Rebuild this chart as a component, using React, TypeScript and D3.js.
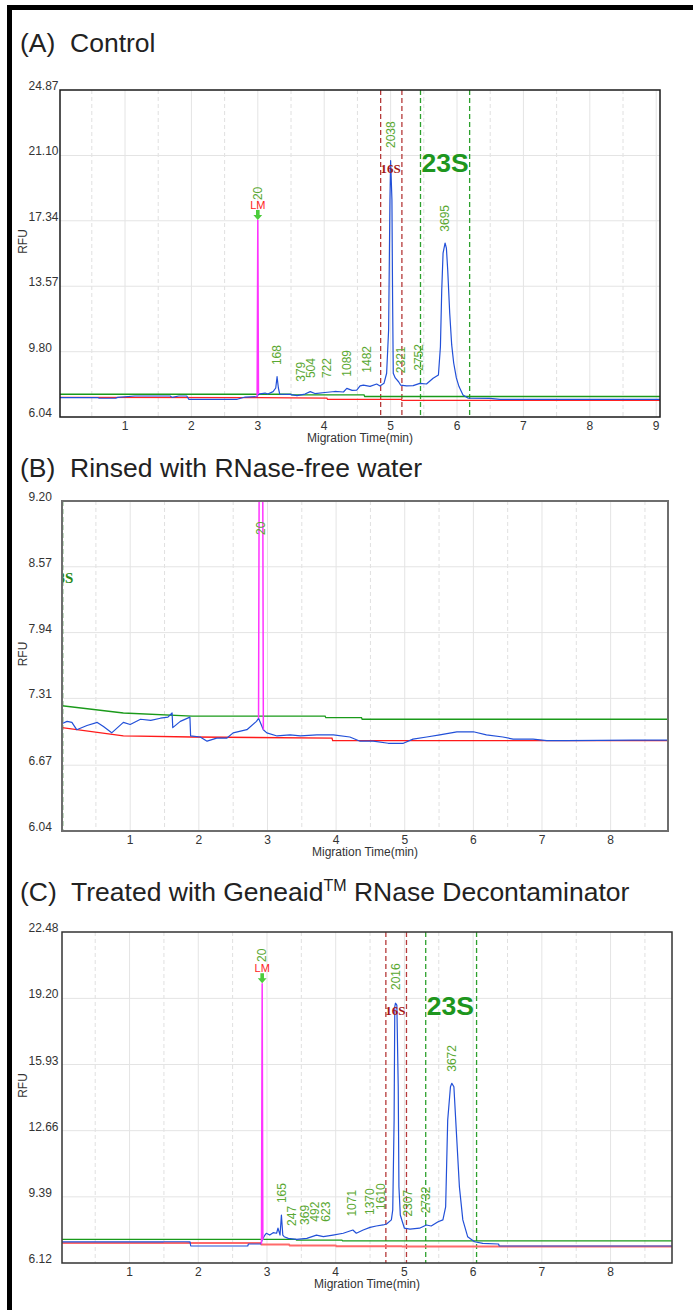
import React, { useEffect, useRef } from 'react'
import * as d3 from 'd3'

type Pt = [number, number]

// ---------- (A) Control ----------
const blueA: Pt[] = [
  [0.02, 7.16], [0.59, 7.16], [0.61, 7.12], [0.86, 7.12], [0.89, 7.17], [1.15, 7.25], [1.68, 7.25],
  [1.71, 7.17], [1.81, 7.25], [1.93, 7.25], [1.96, 7.06], [2.69, 7.06], [2.81, 7.19], [2.99, 7.21],
  [3.01, 7.36], [3.11, 7.42], [3.15, 7.36], [3.23, 7.5], [3.27, 7.71], [3.29, 8.36], [3.31, 7.71],
  [3.33, 7.36], [3.48, 7.34], [3.59, 7.27], [3.71, 7.36], [3.79, 7.5], [3.86, 7.39], [4.01, 7.45],
  [4.16, 7.51], [4.29, 7.48], [4.34, 7.69], [4.42, 7.57], [4.49, 7.59], [4.54, 7.83], [4.59, 7.88],
  [4.69, 7.8], [4.79, 7.94], [4.84, 7.83], [4.9, 7.98], [4.94, 8.56], [4.97, 11.05], [4.99, 18.53],
  [5.0, 20.8], [5.02, 18.53], [5.03, 12.78], [5.04, 8.56], [5.07, 8.29], [5.12, 8.07], [5.15, 7.88],
  [5.24, 7.83], [5.34, 7.85], [5.44, 7.98], [5.54, 7.94], [5.64, 8.27], [5.72, 8.46], [5.75, 10.09],
  [5.77, 13.35], [5.79, 15.48], [5.82, 16.06], [5.84, 15.77], [5.86, 14.5], [5.89, 12.03], [5.92, 10.19],
  [5.95, 9.15], [5.99, 8.29], [6.03, 7.79], [6.09, 7.31], [6.17, 7.12], [6.5, 7.11], [6.65, 7.06], [9.06, 7.06],
]
const greenA: Pt[] = [[0.02, 7.35], [3.5, 7.35], [3.51, 7.31], [4.6, 7.31], [4.61, 7.22], [9.06, 7.22]]
const redA: Pt[] = [[0.02, 7.17], [3.0, 7.15], [4.04, 7.13], [4.05, 7.05], [5.16, 7.05], [5.17, 7.0], [9.06, 7.0]]
const lmA: Pt[] = [[2.99, 7.21], [3.0, 17.38], [3.01, 7.36]]
const sizesA = ['20', '168', '379', '504', '722', '1089', '1482', '2038', '2321', '2752', '3695']
const sizeTimesA = [3.0, 3.29, 3.64, 3.79, 4.04, 4.34, 4.64, 5.0, 5.15, 5.42, 5.82]
const sizeRfuA = [17.84, 8.34, 7.38, 7.59, 7.59, 7.67, 7.9, 20.84, 7.87, 8.01, 16.02]
const yTicksA = [6.04, 9.8, 13.57, 17.34, 21.1, 24.87]
const marks16A = [4.85, 5.17]
const marks23A = [5.45, 6.19]

// ---------- (B) Rinsed ----------
const blueB: Pt[] = [
  [0.01, 7.07], [0.08, 7.09], [0.15, 7.08], [0.22, 7.01], [0.37, 7.05], [0.52, 7.08], [0.61, 7.04],
  [0.73, 6.98], [0.9, 7.08], [1.0, 7.06], [1.15, 7.11], [1.3, 7.1], [1.44, 7.12], [1.55, 7.13],
  [1.61, 7.17], [1.62, 7.03], [1.73, 7.09], [1.87, 7.13], [1.88, 6.95], [2.02, 6.94], [2.12, 6.9],
  [2.26, 6.93], [2.41, 6.93], [2.5, 6.98], [2.7, 7.01], [2.84, 7.09], [2.87, 7.12], [2.94, 7.01],
  [2.99, 6.98], [3.14, 6.95], [3.33, 6.96], [3.48, 6.95], [3.72, 6.96], [3.96, 6.96], [4.2, 6.94],
  [4.35, 6.9], [4.54, 6.9], [4.76, 6.88], [4.98, 6.88], [5.12, 6.92], [5.32, 6.94], [5.51, 6.96],
  [5.76, 6.99], [6.0, 6.99], [6.19, 6.96], [6.43, 6.94], [6.58, 6.92], [6.87, 6.92], [7.07, 6.905],
  [7.36, 6.905], [8.33, 6.91], [8.84, 6.91],
]
const greenB: Pt[] = [[0.0, 7.24], [0.9, 7.17], [1.9, 7.14], [3.84, 7.14], [3.85, 7.125], [4.37, 7.125], [4.38, 7.11], [8.84, 7.11]]
const redB: Pt[] = [[0.0, 7.03], [0.9, 6.95], [1.9, 6.94], [3.94, 6.93], [3.95, 6.905], [8.84, 6.905]]
const lmB: Pt[] = [[2.87, 7.12], [2.88, 9.7], [2.93, 9.7], [2.94, 7.01]]
const sizesB = ['20']
const sizeTimesB = [2.905]
const sizeRfuB = [8.76]
const yTicksB = [6.04, 6.67, 7.31, 7.94, 8.57, 9.2]
const marks16B: number[] = []
const marks23B = [0.01]

// ---------- (C) Treated ----------
const blueC: Pt[] = [
  [0.02, 7.16], [1.49, 7.16], [1.5, 7.17], [1.81, 7.17], [1.88, 7.16], [1.89, 6.96], [2.72, 6.96],
  [2.73, 7.06], [2.91, 7.06], [2.93, 7.26], [2.97, 7.5], [2.99, 7.59], [3.04, 7.5], [3.09, 7.62],
  [3.14, 7.59], [3.16, 7.84], [3.19, 7.5], [3.21, 8.49], [3.23, 7.5], [3.25, 7.42], [3.31, 7.34],
  [3.43, 7.29], [3.58, 7.34], [3.72, 7.5], [3.82, 7.42], [3.96, 7.5], [4.11, 7.59], [4.25, 7.75],
  [4.3, 7.59], [4.4, 7.75], [4.5, 7.88], [4.59, 7.95], [4.69, 8.0], [4.74, 8.05], [4.81, 8.25],
  [4.83, 8.74], [4.85, 13.19], [4.86, 18.79], [4.87, 18.96], [4.89, 18.87], [4.91, 14.83], [4.92, 9.89],
  [4.94, 8.49], [4.97, 8.16], [5.0, 7.84], [5.08, 7.79], [5.22, 7.84], [5.32, 8.0], [5.39, 7.95],
  [5.49, 8.16], [5.56, 8.25], [5.6, 8.9], [5.63, 13.19], [5.67, 14.83], [5.69, 15.0], [5.72, 14.83],
  [5.76, 12.36], [5.8, 9.89], [5.85, 8.25], [5.92, 7.42], [6.02, 7.17], [6.14, 7.09], [6.37, 7.06],
  [6.38, 6.96], [8.89, 6.96],
]
const greenC: Pt[] = [[0.02, 7.29], [3.42, 7.29], [3.43, 7.25], [4.09, 7.25], [4.1, 7.21], [8.89, 7.21]]
const redC: Pt[] = [[0.02, 7.11], [2.91, 7.11], [2.92, 7.04], [3.32, 7.04], [3.33, 6.99], [4.0, 6.99], [4.01, 6.95], [4.96, 6.95], [4.97, 6.93], [8.89, 6.93]]
const lmC: Pt[] = [[2.92, 7.06], [2.93, 19.95], [2.94, 7.26]]
const sizesC = ['20', '165', '247', '369', '492', '623', '1071', '1370', '1610', '2016', '2307', '2732', '3672']
const sizeTimesC = [2.93, 3.21, 3.36, 3.55, 3.7, 3.85, 4.23, 4.5, 4.65, 4.88, 5.05, 5.31, 5.69]
const sizeRfuC = [20.41, 8.49, 7.36, 7.41, 7.57, 7.57, 7.82, 7.9, 8.15, 19.02, 7.82, 7.98, 14.98]
const yTicksC = [6.12, 9.39, 12.66, 15.93, 19.2, 22.48]
const marks16C = [4.73, 5.03]
const marks23C = [5.31, 6.05]

const FONT = "'Liberation Sans', Arial, Helvetica, sans-serif"

const panels = [
  {
    title: '(A)  Control', sup: '', rest: '', titleY: 52,
    box: { l: 60, t: 90, r: 660, b: 417 }, xDomain: [0.021, 9.057], frame: '#1a1a1a', frameW: 1.5,
    blue: blueA, green: greenA, red: redA, lm: lmA, lmMarker: true, redColor: '#ff2222', redW: 1.3,
    sizes: sizesA, sizeTimes: sizeTimesA, sizeRfu: sizeRfuA, yTicks: yTicksA, m16: marks16A, m23: marks23A,
  },
  {
    title: '(B)  Rinsed with RNase-free water', sup: '', rest: '', titleY: 477,
    box: { l: 62, t: 501, r: 668, b: 831 }, xDomain: [0.006, 8.836], frame: '#6e6e6e', frameW: 2,
    blue: blueB, green: greenB, red: redB, lm: lmB, lmMarker: false, redColor: '#ff1a1a', redW: 1.3,
    sizes: sizesB, sizeTimes: sizeTimesB, sizeRfu: sizeRfuB, yTicks: yTicksB, m16: marks16B, m23: marks23B,
  },
  {
    title: '(C)  Treated with Geneaid', sup: 'TM', rest: ' RNase Decontaminator', titleY: 901,
    box: { l: 62, t: 932, r: 672, b: 1263 }, xDomain: [0.017, 8.894], frame: '#333', frameW: 1.5,
    blue: blueC, green: greenC, red: redC, lm: lmC, lmMarker: true, redColor: '#ff6a6a', redW: 2,
    sizes: sizesC, sizeTimes: sizeTimesC, sizeRfu: sizeRfuC, yTicks: yTicksC, m16: marks16C, m23: marks23C,
  },
]

function drawPanel(svg, p, idx) {
  const { l, t, r, b } = p.box
  const x = d3.scaleLinear().domain(p.xDomain).range([l, r])
  const y = d3.scaleLinear().domain([p.yTicks[0], p.yTicks[p.yTicks.length - 1]]).range([b, t])
  const g = svg.append('g').attr('font-family', FONT)

  // title (keep the double space after the panel letter)
  const title = g.append('text').attr('x', 20).attr('y', p.titleY).attr('font-size', 26.5)
    .attr('fill', '#222').style('white-space', 'pre')
  title.append('tspan').text(p.title)
  if (p.sup) {
    title.append('tspan').attr('font-size', 16).attr('dy', -10).text(p.sup)
    title.append('tspan').attr('dy', 10).text(p.rest)
  }

  // grid
  const halves = d3.range(0.5, p.xDomain[1], 0.5).filter((v) => v > p.xDomain[0])
  g.append('g').selectAll('line').data(halves).join('line')
    .attr('x1', (d) => x(d)).attr('x2', (d) => x(d)).attr('y1', t).attr('y2', b)
    .attr('stroke', (d) => (Number.isInteger(d) ? '#e4e4e4' : '#e0e0e0'))
    .attr('stroke-dasharray', (d) => (Number.isInteger(d) ? null : '4,3'))
  g.append('g').selectAll('line').data(p.yTicks.slice(1, -1)).join('line')
    .attr('x1', l).attr('x2', r).attr('y1', (d) => y(d)).attr('y2', (d) => y(d))
    .attr('stroke', '#e4e4e4')

  const clipId = 'plotclip' + idx
  g.append('clipPath').attr('id', clipId).append('rect')
    .attr('x', l).attr('y', t).attr('width', r - l).attr('height', b - t)
  const plot = g.append('g').attr('clip-path', `url(#${clipId})`)

  // region markers
  plot.selectAll('line.m16').data(p.m16).join('line').attr('class', 'm16')
    .attr('x1', (d) => x(d)).attr('x2', (d) => x(d)).attr('y1', t).attr('y2', b)
    .attr('stroke', '#b53a3a').attr('stroke-width', 1.3).attr('stroke-dasharray', '5,3')
  plot.selectAll('line.m23').data(p.m23).join('line').attr('class', 'm23')
    .attr('x1', (d) => x(d)).attr('x2', (d) => x(d)).attr('y1', t).attr('y2', b)
    .attr('stroke', idx === 1 ? '#1f7a1f' : '#2ca02c').attr('stroke-width', idx === 1 ? 2 : 1.3)
    .attr('stroke-dasharray', '5,3')

  const line = d3.line<Pt>().x((d) => x(d[0])).y((d) => y(d[1]))
  plot.append('path').datum(p.red).attr('d', line).attr('fill', 'none')
    .attr('stroke', p.redColor).attr('stroke-width', p.redW)
  plot.append('path').datum(p.green).attr('d', line).attr('fill', 'none')
    .attr('stroke', '#1a9a1a').attr('stroke-width', 1.3)
  plot.append('path').datum(p.blue).attr('d', line).attr('fill', 'none')
    .attr('stroke', '#2250d8').attr('stroke-width', 1.2).attr('stroke-linejoin', 'round')
  plot.append('path').datum(p.lm).attr('d', line).attr('fill', 'none')
    .attr('stroke', '#ff33ff').attr('stroke-width', 1.5)

  // LM marker
  if (p.lmMarker) {
    const top = d3.greatest(p.lm, (d) => d[1])
    const lx = x(top[0])
    const ly = y(top[1])
    g.append('path')
      .attr('d', `M${lx - 1.8},${ly - 10}h3.6v5h2.6l-4.4,5l-4.4,-5h2.6z`)
      .attr('fill', '#4ccc3c')
    g.append('text').attr('x', lx).attr('y', ly - 11).attr('text-anchor', 'middle')
      .attr('font-size', 11).attr('fill', '#ff2222').text('LM')
  }

  // fragment size labels
  g.append('g').selectAll('text').data(p.sizes).join('text')
    .attr('transform', (d, i) => `translate(${x(p.sizeTimes[i]) + 4.3},${y(p.sizeRfu[i]) - 12}) rotate(-90)`)
    .attr('font-size', 12).attr('fill', '#5aa832').text((d) => d)

  // 16S / 23S labels
  if (p.m16.length) {
    const inside = p.blue.filter((d) => d[0] > p.m16[0] && d[0] < p.m16[1])
    const pk = d3.greatest(inside, (d) => d[1])
    const by = y(pk[1]) + 12
    g.append('text').attr('x', x(pk[0])).attr('y', by).attr('text-anchor', 'middle')
      .attr('font-family', "'Liberation Serif', 'Times New Roman', serif").attr('font-weight', 'bold')
      .attr('font-size', 13).attr('fill', '#a31515').text('16S')
    g.append('text').attr('x', x(p.m23[0]) + 1).attr('y', by - 0.5)
      .attr('font-weight', 'bold').attr('font-size', 26.5).attr('fill', '#1e961e').text('23S')
  } else {
    g.append('text').attr('clip-path', `url(#${clipId})`)
      .attr('x', x(p.m23[0]) + 11).attr('y', t + 82).attr('text-anchor', 'end')
      .attr('font-family', "'Liberation Serif', 'Times New Roman', serif").attr('font-weight', 'bold')
      .attr('font-size', 15).attr('fill', '#2a8a1a').text('23S')
  }

  // frame
  g.append('rect').attr('x', l).attr('y', t).attr('width', r - l).attr('height', b - t)
    .attr('fill', 'none').attr('stroke', p.frame).attr('stroke-width', p.frameW)

  // axes text
  g.append('g').selectAll('text').data(p.yTicks).join('text')
    .attr('x', 28.5).attr('y', (d) => y(d)).attr('font-size', 12).attr('fill', '#333')
    .text((d) => d.toFixed(2))
  const xt = d3.range(1, Math.floor(p.xDomain[1]) + 1)
  g.append('g').selectAll('text').data(xt).join('text')
    .attr('x', (d) => x(d)).attr('y', b + 13).attr('text-anchor', 'middle')
    .attr('font-size', 12).attr('fill', '#333').text((d) => d)
  g.append('text').attr('x', (l + r) / 2).attr('y', b + 25).attr('text-anchor', 'middle')
    .attr('font-size', 12).attr('fill', '#333').text('Migration Time(min)')
  g.append('text').attr('transform', `translate(27,${(t + b) / 2 - 12}) rotate(-90)`)
    .attr('text-anchor', 'middle').attr('font-size', 12).attr('fill', '#333').text('RFU')
}

export default function App() {
  const ref = useRef<SVGSVGElement>(null)

  useEffect(() => {
    const svg = d3.select(ref.current)
    svg.selectAll('*').remove()
    svg.append('rect').attr('width', 693).attr('height', 1310).attr('fill', '#fff')
    // outer border (top and left edges visible)
    svg.append('rect').attr('x', 7).attr('y', 5).attr('width', 5).attr('height', 1305).attr('fill', '#000')
    svg.append('rect').attr('x', 7).attr('y', 5).attr('width', 686).attr('height', 5).attr('fill', '#000')
    panels.forEach((p, i) => drawPanel(svg, p, i))
  }, [])

  return (
    <svg ref={ref} width={693} height={1310}
      style={{ position: 'absolute', left: 0, top: 0, display: 'block' }} />
  )
}
